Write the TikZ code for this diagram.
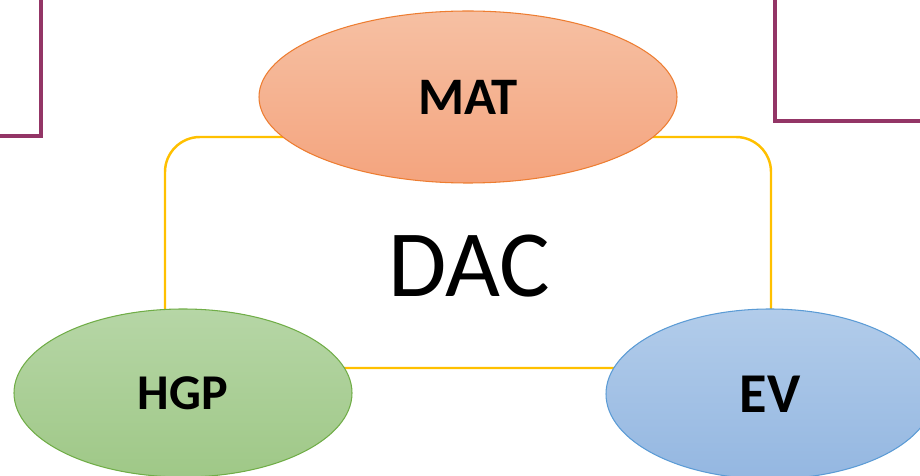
\documentclass[tikz,border=0pt]{standalone}
\usepackage{fontspec}
\setmainfont{Carlito}
\usetikzlibrary{shapes.geometric,positioning}

\definecolor{lila}{HTML}{933566}
\definecolor{gelb}{HTML}{FFC000}
\definecolor{matrand}{HTML}{ED7D31}
\definecolor{mattop}{HTML}{F6C0A3}
\definecolor{matbot}{HTML}{F4A47E}
\definecolor{hgprand}{HTML}{70AD47}
\definecolor{hgptop}{HTML}{B6D6A6}
\definecolor{hgpbot}{HTML}{9FC887}
\definecolor{evrand}{HTML}{5B9BD5}
\definecolor{evtop}{HTML}{B2CCEA}
\definecolor{evbot}{HTML}{94B7E1}
\newcommand{\pxu}{0.02cm}

\begin{document}
\begin{tikzpicture}[x=0.02cm, y=-0.02cm,
    blob/.style={ellipse, inner sep=0pt, line width=0.6pt, font=\bfseries},
    frame/.style={line width=1.4pt, draw=gelb, rounded corners=35*\pxu},
    bracket/.style={line width=2pt, draw=lila}
  ]
  % Bildausschnitt
  \clip (0,0) rectangle (920,476);
  \useasboundingbox (0,0) rectangle (920,476);

  % Eckpunkte Rahmen
  \coordinate (f1) at (165,137);
  \coordinate (f2) at (771,368);

  % angeschnittene Linien oben
  \draw[bracket] (41,-5) -- (41,136) -- (-5,136);
  \draw[bracket] (775,-5) -- (775,121) -- (925,121);

  % Rahmen
  \draw[frame] (f1) rectangle (f2);
  \node (dac) at (469,266) {\fontsize{54}{60}\selectfont DAC};

  % Ellipsen
  \node[blob, draw=matrand, top color=mattop, bottom color=matbot,
        minimum width=418*\pxu, minimum height=172*\pxu] (mat) at (468,97)
        {\fontsize{30}{36}\selectfont MAT};
  \node[blob, draw=hgprand, top color=hgptop, bottom color=hgpbot,
        minimum width=338*\pxu, minimum height=168*\pxu] (hgp) at (183,393)
        {\fontsize{28.5}{34}\selectfont HGP};
  \node[blob, draw=evrand, top color=evtop, bottom color=evbot,
        minimum width=328*\pxu, minimum height=170*\pxu] (ev) at (770,394)
        {\fontsize{32}{38}\selectfont EV};
\end{tikzpicture}
\end{document}
